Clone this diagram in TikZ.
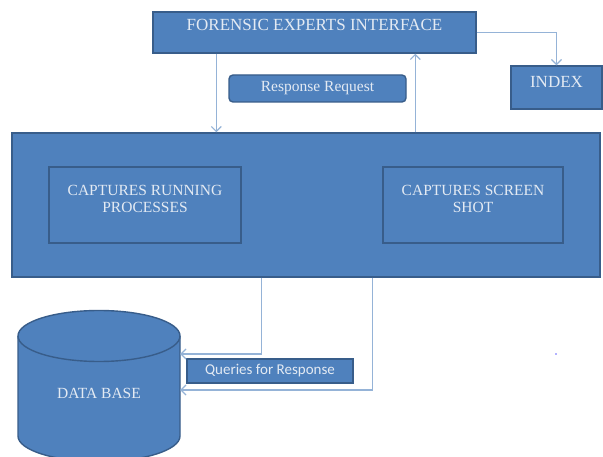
\documentclass[tikz,border=0pt]{standalone}
\usepackage{fontspec}
\setmainfont{Liberation Serif}
\newfontfamily\calibrifont{Carlito}
\usetikzlibrary{arrows.meta}
\definecolor{myboxcolor}{HTML}{4F81BD}
\definecolor{myedgecolor}{HTML}{385D8A}
\definecolor{mylinkcolor}{HTML}{95B3D7}
\definecolor{mytextcolor}{HTML}{E3EAF3}

\begin{document}
\begin{tikzpicture}[x=1pt, y=-1pt,
  box/.style={draw=myedgecolor, fill=myboxcolor, line width=1.4pt, rectangle, inner sep=0pt},
  lbl/.style={text=mytextcolor, align=center, font=\fontsize{15.5pt}{17pt}\selectfont},
  link/.style={draw=mylinkcolor, line width=1.2pt, -{Straight Barb[length=5pt,width=10pt]}}]%
\useasboundingbox[fill=white] (0,0) rectangle (603,457);%
% top row
\node[box, minimum width=323pt, minimum height=41pt, label={[lbl, font=\fontsize{17pt}{19pt}\selectfont, yshift=7.5pt]center:FORENSIC EXPERTS INTERFACE}] (fei) at (314.5,32.5) {};%
\node[box, minimum width=91pt, minimum height=43pt, label={[lbl, font=\fontsize{17pt}{19pt}\selectfont, yshift=6pt]center:INDEX}] (index) at (556.5,87.5) {};%
\node[box, rounded corners=4pt, minimum width=177pt, minimum height=27pt, lbl] (req) at (317.5,88.5) {Response Request};%
% middle block
\node[box, minimum width=588pt, minimum height=144pt] (sys) at (306,205) {};%
\node[box, line width=1.8pt, minimum width=192pt, minimum height=76pt, label={[lbl, yshift=6.5pt]center:CAPTURES RUNNING\\PROCESSES}] (procs) at (145,205) {};%
\node[box, line width=1.8pt, minimum width=180pt, minimum height=76pt, label={[lbl, yshift=6.5pt]center:CAPTURES SCREEN\\SHOT}] (shots) at (473,205) {};%
% database
\filldraw[draw=myedgecolor, fill=myboxcolor, line width=1.4pt] (18,336) -- (18,436) arc[start angle=180, end angle=0, x radius=81, y radius=25.5] -- (180,336) arc[start angle=0, end angle=-180, x radius=81, y radius=25.5] -- cycle;%
\draw[myedgecolor, line width=1.4pt] (18,336) arc[start angle=180, end angle=0, x radius=81, y radius=25.5];%
\node[lbl, minimum width=162pt, inner sep=0pt] (db) at (99,393) {DATA BASE};%
\node[box, minimum width=166pt, minimum height=24pt, lbl, font=\calibrifont\fontsize{15pt}{17pt}\selectfont] (qry) at (270,371) {Queries for Response};%
% connectors
\path ([xshift=64pt]fei.south west) coordinate (down);%
\path ([xshift=263pt]fei.south west) coordinate (up);%
\draw[link] (down) -- (down |- sys.north);%
\draw[link] (up |- sys.north) -- (up);%
\draw[link] (fei.east) -| (index.north);%
\draw[link] ([xshift=250pt]sys.south west) |- ([yshift=39pt]db.east);%
\draw[link] ([xshift=361pt]sys.south west) |- ([yshift=3pt]db.east);%
\fill[blue!60] (556,354) circle (0.8pt);%
\end{tikzpicture}
\end{document}
